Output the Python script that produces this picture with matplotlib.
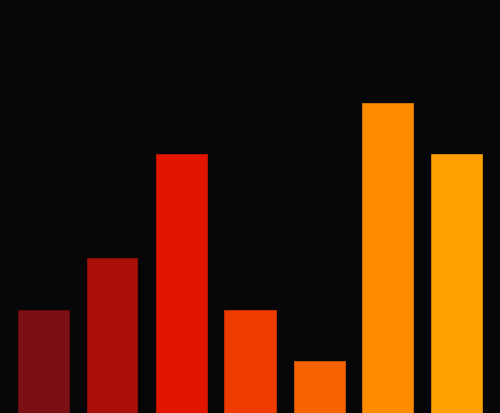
import matplotlib
matplotlib.use("Agg")
import matplotlib.pyplot as plt
import numpy as np
from matplotlib.colors import to_rgb

categories = ["A", "B", "C", "D", "E", "F", "G"]
values = [2, 3, 5, 2, 1, 6, 5]
colors = ["#7b0f14", "#ab1008", "#e21500", "#ef3a00", "#f76400", "#ff8c00", "#ffa000"]
edges = [tuple(c * 0.8 for c in to_rgb(col)) for col in colors]

fig = plt.figure(figsize=(5, 4.14), dpi=100, facecolor="#060508")
ax = fig.add_axes([0, 0, 1, 1])
ax.set_facecolor("#060508")

x = np.arange(len(categories))
ax.bar(x, values, width=51 / 69, color=colors, edgecolor=edges, linewidth=0.72)

ax.set_xlim(-43 / 69, 6 + 43 / 69)
ax.set_ylim(0, 8)
ax.axis("off")

fig.savefig("out.png", dpi=100, facecolor=fig.get_facecolor())
